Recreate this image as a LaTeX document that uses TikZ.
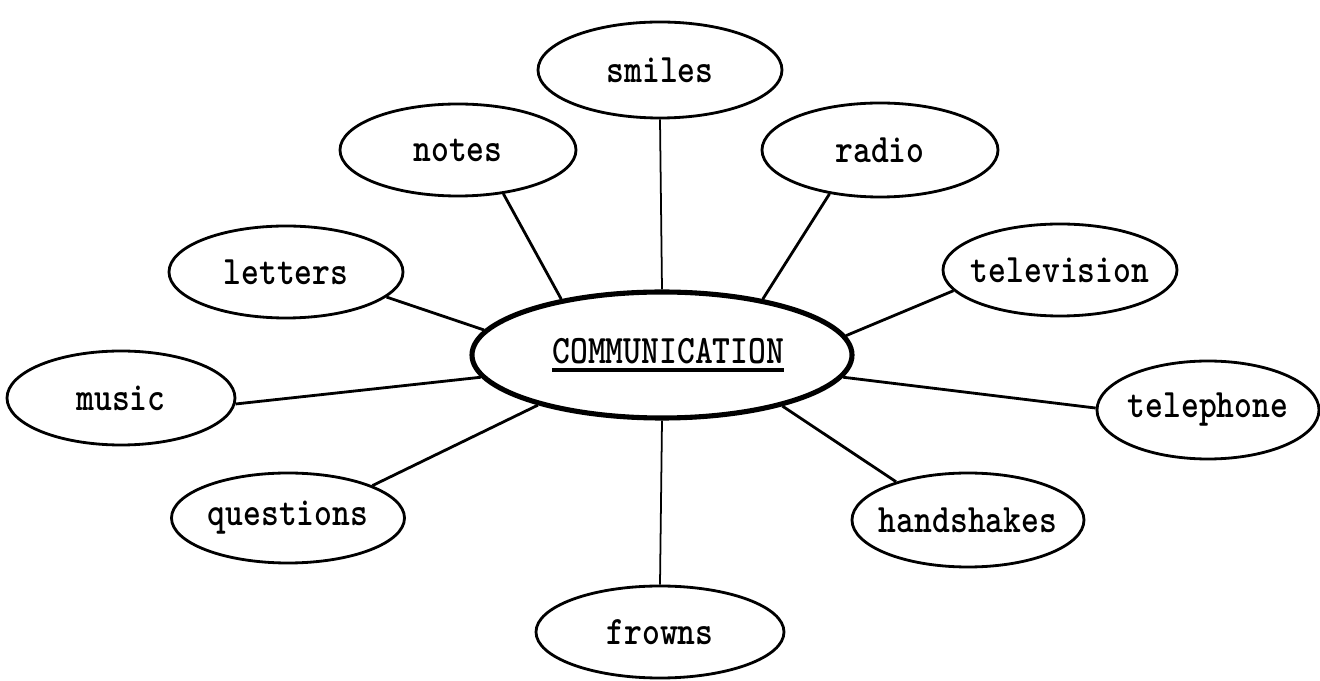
\documentclass[tikz,border=0pt]{standalone}
\usepackage{fontspec}
\usepackage{graphicx}
\usepackage{tikz}
\usetikzlibrary{shapes.geometric}
\newcommand{\nowd}[1]{\makebox[0pt]{\scalebox{0.84}[1]{#1}}}
\newcommand{\heavyul}[1]{\setbox0\hbox{#1}\rlap{\rule[-0.16cm]{\wd0}{0.065cm}}\box0}

\begin{document}
\begin{tikzpicture}[line width=1.6pt,
    bubble/.style={ellipse,draw,inner sep=0pt,font=\ttfamily\bfseries\fontsize{23}{23}\selectfont}]
    \useasboundingbox (0,0) rectangle (26.4,13.62);

    % centre
    \node[bubble,line width=2.9pt,minimum width=7.6cm,minimum height=2.52cm] (comm) at (13.24,6.52) {\nowd{\hspace{0.3cm}\heavyul{COMMUNICATION}}};

    % words round it
    \node[bubble,minimum width=4.88cm,minimum height=1.92cm] (smiles) at (13.2,12.22) {\nowd{smiles}};
    \node[bubble,minimum width=4.72cm,minimum height=1.84cm] (notes) at (9.16,10.62) {\nowd{notes}};
    \node[bubble,minimum width=4.72cm,minimum height=1.88cm] (radio) at (17.6,10.62) {\nowd{radio}};
    \node[bubble,minimum width=4.68cm,minimum height=1.84cm] (letters) at (5.72,8.18) {\nowd{letters}};
    \node[bubble,minimum width=4.68cm,minimum height=1.84cm] (television) at (21.2,8.22) {\nowd{television}};
    \node[bubble,minimum width=4.56cm,minimum height=1.88cm] (music) at (2.42,5.66) {\nowd{music}};
    \node[bubble,minimum width=4.44cm,minimum height=1.96cm] (telephone) at (24.16,5.42) {\nowd{telephone}};
    \node[bubble,minimum width=4.66cm,minimum height=1.8cm] (questions) at (5.76,3.26) {\nowd{questions}};
    \node[bubble,minimum width=4.64cm,minimum height=1.88cm] (handshakes) at (19.36,3.22) {\nowd{handshakes}};
    \node[bubble,minimum width=4.96cm,minimum height=1.84cm] (frowns) at (13.2,0.98) {\nowd{frowns}};

    % spokes
    \draw[line width=1pt] (smiles.south) -- (comm.north);
    \draw[line width=1pt] (frowns.north) -- (comm.south);
    \draw (notes.-44) -- (comm.151);
    \draw (radio.221) -- (comm.29);
    \draw (letters.-14) -- (comm.172);
    \draw (television.191) -- (comm.6);
    \draw (music.-3) -- (comm.187);
    \draw (telephone.179) -- (comm.-7);
    \draw (questions.21) -- (comm.202);
    \draw (handshakes.152) -- (comm.-23);
\end{tikzpicture}
\end{document}
